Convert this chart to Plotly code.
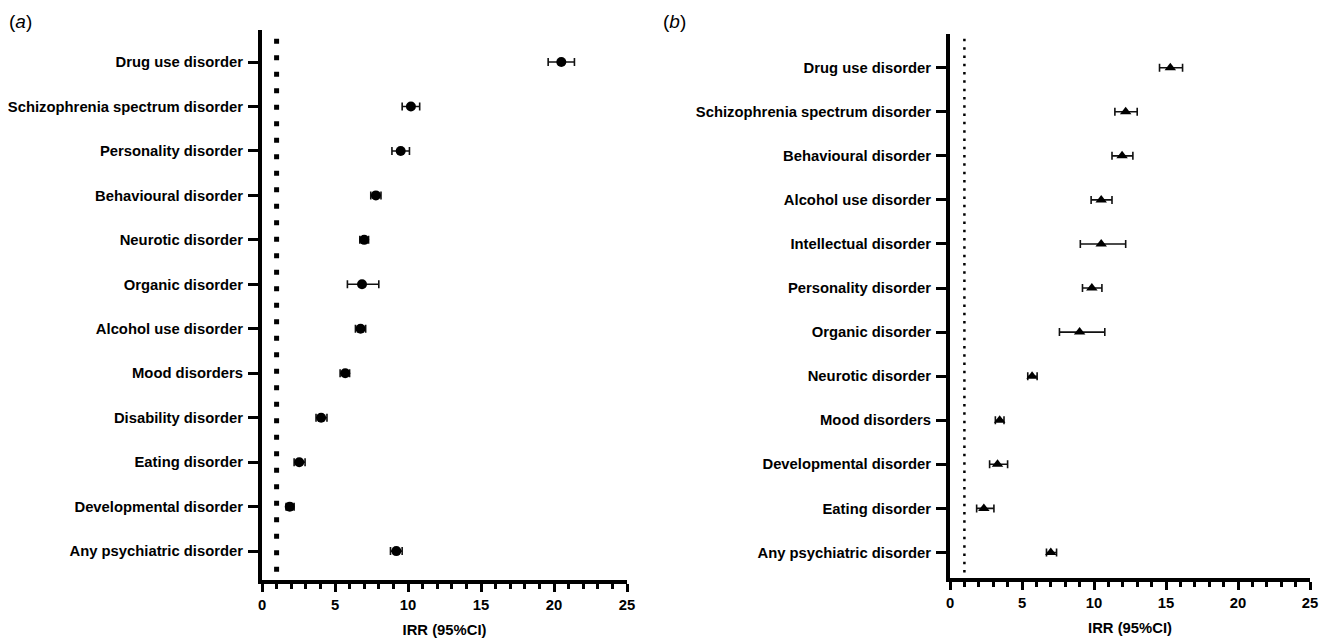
import plotly.graph_objects as go

# ---- Data (panel a) ----
cats_a = ["Drug use disorder", "Schizophrenia spectrum disorder", "Personality disorder",
          "Behavioural disorder", "Neurotic disorder", "Organic disorder",
          "Alcohol use disorder", "Mood disorders", "Disability disorder",
          "Eating disorder", "Developmental disorder", "Any psychiatric disorder"]
irr_a = [20.5, 10.2, 9.5, 7.8, 7.0, 6.85, 6.75, 5.7, 4.05, 2.55, 1.9, 9.2]
lo_a = [19.6, 9.6, 8.9, 7.45, 6.7, 5.85, 6.4, 5.35, 3.7, 2.2, 1.65, 8.8]
hi_a = [21.4, 10.8, 10.1, 8.15, 7.3, 8.0, 7.1, 6.0, 4.45, 2.95, 2.2, 9.6]

# ---- Data (panel b) ----
cats_b = ["Drug use disorder", "Schizophrenia spectrum disorder", "Behavioural disorder",
          "Alcohol use disorder", "Intellectual disorder", "Personality disorder",
          "Organic disorder", "Neurotic disorder", "Mood disorders",
          "Developmental disorder", "Eating disorder", "Any psychiatric disorder"]
irr_b = [15.3, 12.2, 11.95, 10.5, 10.5, 9.85, 9.0, 5.7, 3.45, 3.3, 2.35, 7.0]
lo_b = [14.55, 11.45, 11.25, 9.8, 9.05, 9.2, 7.6, 5.4, 3.15, 2.75, 1.85, 6.7]
hi_b = [16.15, 13.0, 12.7, 11.25, 12.2, 10.55, 10.75, 6.05, 3.75, 4.0, 3.05, 7.4]

x_ticks = [0, 5, 10, 15, 20, 25]
ref_value = 1
x_title = "IRR (95%CI)"

# page has an 8px body margin: figure is drawn from (8, 8)
OFF = 8
W, H = 1332 - OFF, 644 - OFF
FONT = "Arial, 'Liberation Sans', Helvetica, sans-serif"
FS = 14.8

def fx(px):  # screen px -> paper x
    return (px - OFF) / W

def fy(py):  # screen px (from top) -> paper y
    return (H - (py - OFF)) / H

fig = go.Figure()

def add_panel(cats, irr, lo, hi, xa, ya, symbol, size):
    fig.add_trace(go.Scatter(
        x=irr, y=cats, mode="markers", xaxis=xa, yaxis=ya,
        marker=dict(symbol=symbol, size=size, color="black"),
        error_x=dict(type="data", symmetric=False,
                     array=[h - v for h, v in zip(hi, irr)],
                     arrayminus=[v - l for v, l in zip(irr, lo)],
                     color="#111111", thickness=1.6, width=4),
        showlegend=False, hoverinfo="x+y"))

add_panel(cats_a, irr_a, lo_a, hi_a, "x", "y", "circle", 10)
add_panel(cats_b, irr_b, lo_b, hi_b, "x2", "y2", "triangle-up", 10)

def xaxis_style(domain):
    return dict(domain=domain, range=[0, 25], tickvals=x_ticks, ticktext=[str(t) for t in x_ticks],
                showline=True, linecolor="black", linewidth=4,
                ticks="outside", ticklen=8, tickwidth=3, tickcolor="black",
                minor=dict(ticks="outside", ticklen=5, tickwidth=3, tickcolor="black", dtick=1, tick0=0),
                showgrid=False, zeroline=False, automargin=False,
                tickfont=dict(family=FONT, size=FS, color="black", weight="bold"),
                title=dict(text=x_title, font=dict(family=FONT, size=FS, color="black", weight="bold"),
                           standoff=14),
                fixedrange=True)

def yaxis_style(domain, cats, rng):
    return dict(domain=domain, type="category", categoryorder="array", categoryarray=cats,
                range=rng, showline=True, linecolor="black", linewidth=4,
                ticks="outside", ticklen=10, tickwidth=3, tickcolor="black",
                showgrid=False, zeroline=False, automargin=False,
                tickfont=dict(family=FONT, size=FS, color="black", weight="bold"),
                ticklabelstandoff=2, fixedrange=True)

fig.update_layout(
    width=W, height=H,
    margin=dict(l=0, r=0, t=0, b=0, autoexpand=False),
    paper_bgcolor="white", plot_bgcolor="white",
    xaxis=dict(**xaxis_style([fx(262), fx(627)]), anchor="y"),
    yaxis=dict(**yaxis_style([fy(580), fy(30)], cats_a, [11.65, -0.72]), anchor="x"),
    xaxis2=dict(**xaxis_style([fx(950), fx(1310)]), anchor="y2"),
    yaxis2=dict(**yaxis_style([fy(578), fy(34)], cats_b, [11.58, -0.765]), anchor="x2"),
)

# dotted reference lines at IRR = 1
fig.add_shape(type="line", xref="x", yref="y domain", x0=ref_value, x1=ref_value, y0=0.015, y1=1,
              line=dict(color="black", width=5, dash="5px,11.5px"), layer="below")
fig.add_shape(type="line", xref="x2", yref="y2 domain", x0=ref_value, x1=ref_value, y0=0.01, y1=1,
              line=dict(color="black", width=2.5, dash="2.5px,5.8px"), layer="below")

# panel labels
fig.add_annotation(text="(<i>a</i>)", xref="paper", yref="paper", x=fx(7), y=fy(22),
                   xanchor="left", yanchor="middle", showarrow=False,
                   font=dict(family=FONT, size=19, color="black"))
fig.add_annotation(text="(<i>b</i>)", xref="paper", yref="paper", x=fx(661), y=fy(22),
                   xanchor="left", yanchor="middle", showarrow=False,
                   font=dict(family=FONT, size=19, color="black"))

fig.write_html("out.html")
